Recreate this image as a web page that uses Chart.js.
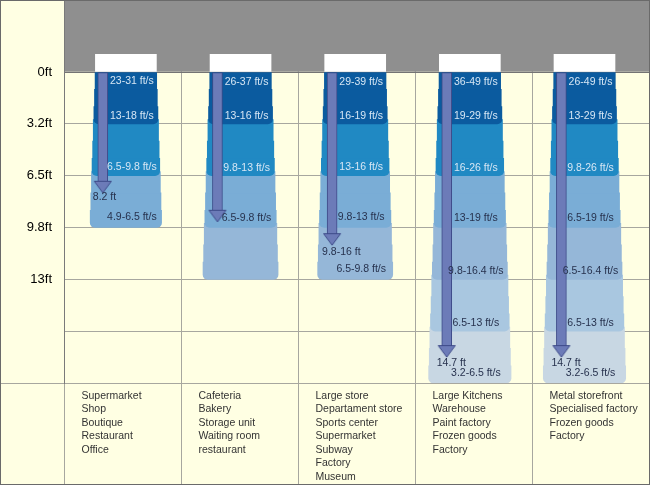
<!DOCTYPE html>
<html>
<head>
<meta charset="utf-8">
<script src="https://cdn.jsdelivr.net/npm/chart.js@4.4.1/dist/chart.umd.min.js"></script>
<style>
  html, body { margin: 0; padding: 0; background: #ffffff; }
  #wrap { width: 650px; height: 485px; box-sizing: border-box; border: 1px solid #6a6a6a; background: #FFFFE3; }
  canvas { display: block; }
</style>
</head>
<body>
<div id="wrap"><canvas id="c" width="648" height="483"></canvas></div>
<script>
// ---------- DATA ----------
const categories = [
  ['Supermarket', 'Shop', 'Boutique', 'Restaurant', 'Office'],
  ['Cafeteria', 'Bakery', 'Storage unit', 'Waiting room', 'restaurant'],
  ['Large store', 'Departament store', 'Sports center', 'Supermarket', 'Subway', 'Factory', 'Museum'],
  ['Large Kitchens', 'Warehouse', 'Paint factory', 'Frozen goods', 'Factory'],
  ['Metal storefront', 'Specialised factory', 'Frozen goods', 'Factory']
];
const yTickValues = [0, 1, 2, 3, 4, 5, 6];            // metres below the unit
const yTickLabels = ['0ft', '3.2ft', '6.5ft', '9.8ft', '13ft', '', ''];
const zoneDepth = [3, 4, 4, 6, 6];                     // depth reached by the air zones
const arrowDepth = [2.33, 2.89, 3.34, 5.5, 5.5];       // arrow tip depth
const speedLabels = [
  ['23-31 ft/s', '13-18 ft/s', '6.5-9.8 ft/s', '4.9-6.5 ft/s'],
  ['26-37 ft/s', '13-16 ft/s', '9.8-13 ft/s', '6.5-9.8 ft/s'],
  ['29-39 ft/s', '16-19 ft/s', '13-16 ft/s', '9.8-13 ft/s', '6.5-9.8 ft/s'],
  ['36-49 ft/s', '19-29 ft/s', '16-26 ft/s', '13-19 ft/s', '9.8-16.4 ft/s', '6.5-13 ft/s', '3.2-6.5 ft/s'],
  ['26-49 ft/s', '13-29 ft/s', '9.8-26 ft/s', '6.5-19 ft/s', '6.5-16.4 ft/s', '6.5-13 ft/s', '3.2-6.5 ft/s']
];
const speedLabelDepth = [
  [0.18, 0.85, 1.84, 2.80],
  [0.19, 0.85, 1.85, 2.81],
  [0.19, 0.85, 1.83, 2.79, 3.80],
  [0.19, 0.85, 1.85, 2.81, 3.84, 4.85, 5.80],
  [0.19, 0.85, 1.85, 2.81, 3.84, 4.85, 5.80]
];
const throwLabels = ['8.2 ft', '', '9.8-16 ft', '14.7 ft', '14.7 ft'];
const throwLabelDepth = [2.41, null, 3.47, 5.61, 5.61];

// ---------- STYLE ----------
const FONT = '"Liberation Sans", Arial, sans-serif';
const Y_MIN = -1.37;          // top of the ceiling band
const CAP_TOP = -0.34;        // air-curtain unit height
const OVERLAP = 0.08;
const SHAFT_CUT = 0.15;
const GRID = '#A7A79F';
const CEILING = '#8F8F8F';
const BAND_COLORS = ['#0B5B9F', '#2089C3', '#7AADD6', '#95B7D8', '#A9C7E0', '#C8D7E3'];
const TOP_WIDTH = 61;          // px at the unit
const TAPER = 3.67;            // px of extra width per metre
const SLICES = 3;              // slices per zone to draw the taper
const LIGHT_TXT = '#D6E6F4';
const DARK_TXT = '#27324E';
const ARROW_FILL = '#6C7BB8';
const ARROW_LINE = '#3D4A88';

Chart.defaults.font.family = FONT;

function makeHead() {
  const c = document.createElement('canvas');
  c.width = 20; c.height = 26;
  const g = c.getContext('2d');
  g.beginPath();
  g.moveTo(1.5, 1.5); g.lineTo(18.5, 1.5); g.lineTo(10, 13); g.closePath();
  g.fillStyle = ARROW_FILL; g.fill();
  g.strokeStyle = ARROW_LINE; g.lineWidth = 1; g.stroke();
  return c;
}
const headImg = makeHead();

// ---------- DATASETS ----------
const datasets = [];
datasets.push({
  type: 'line', xAxisID: 'xa', yAxisID: 'y', showLine: false,
  pointStyle: headImg, pointRadius: 6, pointHoverRadius: 6,
  data: arrowDepth.map((d, i) => ({ x: i, y: d }))
});
datasets.push({
  xAxisID: 'xa', yAxisID: 'y', grouped: false, barThickness: 10,
  backgroundColor: ARROW_FILL, borderColor: ARROW_LINE, borderWidth: 1, borderSkipped: false,
  data: arrowDepth.map((d, i) => ({ x: i, y: [0, d - SHAFT_CUT] }))
});
datasets.push({
  xAxisID: 'xb', yAxisID: 'y', grouped: false, barThickness: 61,
  backgroundColor: '#FFFFFF', borderWidth: 0,
  data: categories.map((c, i) => ({ x: i, y: [CAP_TOP, 0] }))
});
for (let b = 0; b < BAND_COLORS.length; b++) {
  for (let s = 0; s < SLICES; s++) {
    const y0 = b + s / SLICES, y1 = b + (s + 1) / SLICES;
    const start = (s === 0 && b > 0) ? y0 - OVERLAP : y0;
    const last = s === SLICES - 1;
    const pts = [];
    zoneDepth.forEach((d, i) => { if (b < d) pts.push({ x: i, y: [start, y1] }); });
    datasets.push({
      xAxisID: 'xb', yAxisID: 'y', grouped: false,
      barThickness: TOP_WIDTH + TAPER * (b + (s + 0.5) / SLICES),
      backgroundColor: BAND_COLORS[b], borderWidth: 0, borderSkipped: false,
      borderRadius: last ? { topLeft: 0, topRight: 0, bottomLeft: 5, bottomRight: 5 } : 0,
      data: pts
    });
  }
}
datasets.push({
  xAxisID: 'x', yAxisID: 'y', grouped: false, barPercentage: 1, categoryPercentage: 1,
  backgroundColor: CEILING, borderWidth: 0,
  data: categories.map(() => [Y_MIN, 0])
});

const textPlugin = {
  id: 'zoneText',
  afterDatasetsDraw(chart) {
    const { ctx } = chart;
    const xb = chart.scales.xb, xa = chart.scales.xa, y = chart.scales.y;
    ctx.save();
    ctx.font = '10.5px ' + FONT;
    ctx.textBaseline = 'middle';
    ctx.textAlign = 'center';
    speedLabels.forEach((list, i) => {
      list.forEach((t, k) => {
        const d = speedLabelDepth[i][k];
        ctx.fillStyle = d < 2 ? LIGHT_TXT : DARK_TXT;
        ctx.fillText(t, xb.getPixelForValue(i) + 6, y.getPixelForValue(d));
      });
    });
    ctx.textAlign = 'left';
    ctx.fillStyle = DARK_TXT;
    throwLabels.forEach((t, i) => {
      if (!t) return;
      ctx.fillText(t, xa.getPixelForValue(i) - 10, y.getPixelForValue(throwLabelDepth[i]));
    });
    ctx.restore();
  }
};

new Chart(document.getElementById('c'), {
  type: 'bar',
  data: { labels: categories, datasets },
  plugins: [textPlugin],
  options: {
    responsive: false,
    animation: false,
    events: [],
    layout: { padding: 0, autoPadding: false },
    plugins: { legend: { display: false }, tooltip: { enabled: false } },
    scales: {
      x: {
        type: 'category', offset: true, position: 'bottom',
        grid: { offset: true, color: GRID, tickColor: GRID, drawTicks: true, tickLength: 101 },
        border: { display: true, color: GRID },
        ticks: {
          align: 'start', labelOffset: -41, padding: -95, autoSkip: false,
          maxRotation: 0, minRotation: 0, color: '#333333',
          font: { family: FONT, size: 10.5, lineHeight: 1.286 }
        },
        afterFit: s => { s.height = 101; }
      },
      xb: { type: 'linear', display: false, offset: false, min: -0.5399, max: 4.5626 },
      xa: { type: 'linear', display: false, offset: false, min: -0.3384, max: 4.7641 },
      y: {
        type: 'linear', position: 'left', reverse: true, min: Y_MIN, max: 6,
        afterBuildTicks: s => { s.ticks = yTickValues.map(v => ({ value: v })); },
        grid: {
          color: c => (c.tick && c.tick.value === 0) ? '#737373' : GRID,
          drawTicks: true, tickLength: 63,
          tickColor: c => (c.tick && c.tick.value === 6) ? GRID : 'rgba(0,0,0,0)'
        },
        border: { display: true, color: '#7A7A7A', z: 1 },
        ticks: {
          padding: -51, color: '#000000',
          font: { family: FONT, size: 13 },
          callback: v => yTickLabels[yTickValues.indexOf(v)]
        },
        afterFit: s => { s.width = 63; }
      }
    }
  }
});
</script>
</body>
</html>
